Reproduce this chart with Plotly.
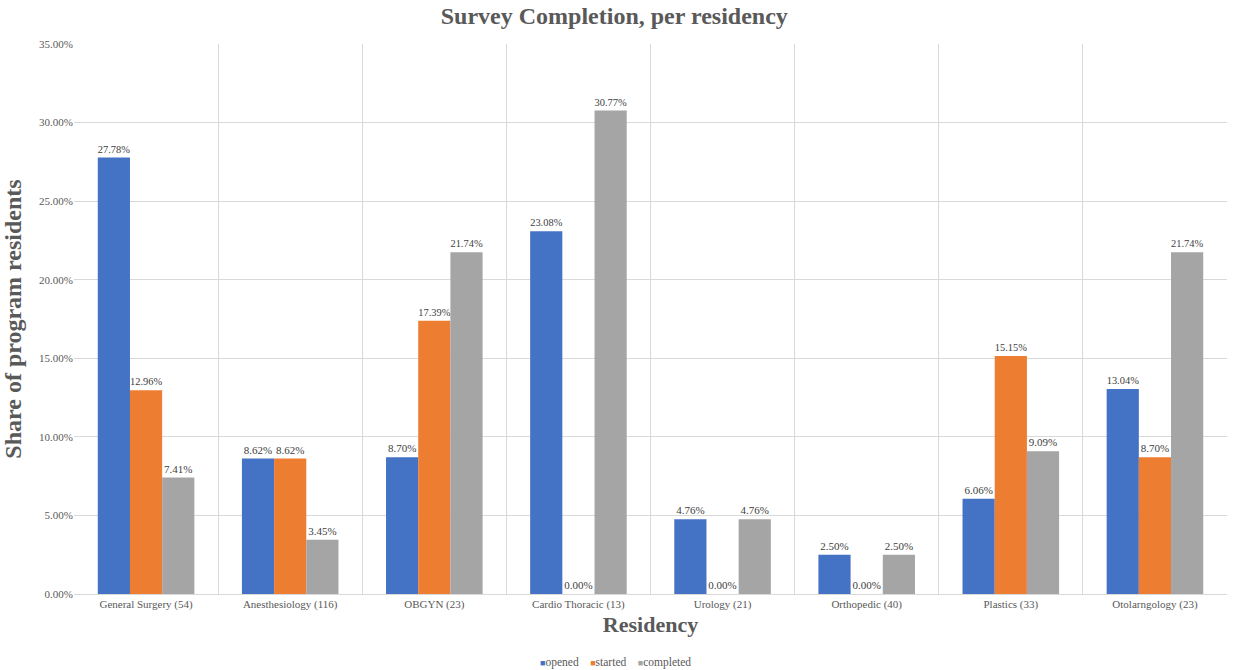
import plotly.graph_objects as go

# Residency programs (with number of residents) and survey shares (%)
residencies = [
    "General Surgery (54)", "Anesthesiology (116)", "OBGYN (23)", "Cardio Thoracic (13)",
    "Urology (21)", "Orthopedic (40)", "Plastics (33)", "Otolarngology (23)",
]
opened = [27.78, 8.62, 8.70, 23.08, 4.76, 2.50, 6.06, 13.04]
started = [12.96, 8.62, 17.39, 0.00, 0.00, 0.00, 15.15, 8.70]
completed = [7.41, 3.45, 21.74, 30.77, 4.76, 2.50, 9.09, 21.74]

series = [
    ("opened", opened, "#4472C4"),
    ("started", started, "#ED7D31"),
    ("completed", completed, "#A5A5A5"),
]

FONT = "Liberation Serif"

fig = go.Figure()
for name, vals, color in series:
    fig.add_trace(go.Bar(
        name=name,
        x=residencies,
        y=[v / 100 for v in vals],
        marker=dict(color=color, line=dict(width=0)),
        text=[f"{v:.2f}%" for v in vals],
        textposition="outside",
        textfont=dict(family=FONT, size=11, color="#404040"),
        cliponaxis=False,
        showlegend=False,
    ))

# compact inline legend: small coloured squares followed by series names
legend_text = "&nbsp;&nbsp;&nbsp;&nbsp;".join(
    f'<span style="color:{color}; font-size:9px">■</span>{name}'
    for name, _, color in series
)
fig.add_annotation(
    text=legend_text, xref="paper", yref="paper",
    x=0.47, xanchor="center", y=-0.125, yanchor="middle",
    showarrow=False, font=dict(family=FONT, size=11.5, color="#595959"),
)

fig.update_layout(
    width=1241, height=670,
    paper_bgcolor="white", plot_bgcolor="white",
    barmode="group", bargap=0.33, bargroupgap=0,
    margin=dict(l=74, r=14, t=44, b=76, autoexpand=False),
    font=dict(family=FONT, color="#595959"),
    showlegend=False,
    title=dict(
        text="<b>Survey Completion, per residency</b>",
        x=0.495, xanchor="center", y=0.976, yanchor="middle",
        font=dict(family=FONT, size=24, color="#595959"),
    ),
)

fig.update_xaxes(
    type="category", automargin=False,
    tickson="boundaries",
    showgrid=True, gridcolor="#D9D9D9", gridwidth=1,
    showline=True, linecolor="#D9D9D9", linewidth=1,
    ticks="", tickfont=dict(family=FONT, size=11, color="#595959"),
    title=dict(text="<b>Residency</b>", standoff=6,
               font=dict(family=FONT, size=22, color="#595959")),
)
fig.update_yaxes(
    range=[0, 0.35], dtick=0.05, tickformat=".2%", automargin=False,
    showgrid=True, gridcolor="#D9D9D9", gridwidth=1,
    zeroline=False, showline=False,
    ticks="", tickfont=dict(family=FONT, size=11, color="#595959"),
    title=dict(text="<b>Share of program residents</b>", standoff=12,
               font=dict(family=FONT, size=24, color="#595959")),
)

fig.write_html("out.html")
